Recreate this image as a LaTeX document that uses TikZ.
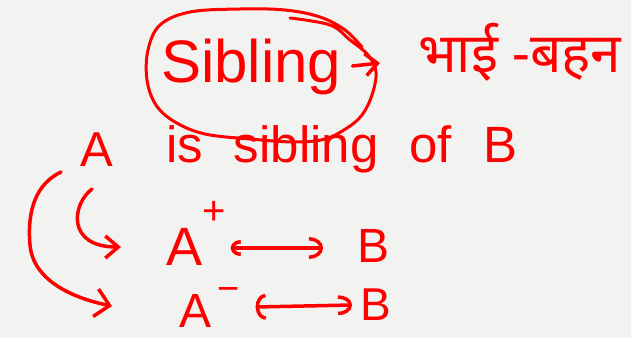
\documentclass[tikz,border=0pt]{standalone}
\usepackage{fontspec}
\setmainfont{Liberation Sans}
\newfontfamily\devfont[Script=Devanagari]{Noto Sans}
\usetikzlibrary{arrows.meta,calc}
\definecolor{bg}{RGB}{242,242,240}
\definecolor{ink}{RGB}{255,0,0}
\begin{document}
\begin{tikzpicture}[x=1pt,y=-1pt,
  txt/.style={text=ink, inner sep=0pt, anchor=base west},
  stroke/.style={draw=ink, line width=3.5pt, line cap=round, line join=round}]
\useasboundingbox (0,0) rectangle (631,338);
\fill[bg] (0,0) rectangle (631,338);
% texts
\node[txt, font=\fontsize{60}{60}\selectfont] (sib) at (161,82) {Sibling};
\node[txt, font=\devfont\fontsize{55}{55}\selectfont] (hin) at (418,72) {भाई -बहन};
\node[txt, font=\fontsize{49}{49}\selectfont] (A) at (80,166) {A};
\node[txt, font=\fontsize{51}{51}\selectfont] (rel) at (166,162) {\spaceskip=31pt is sibling of B};
\node[txt, font=\fontsize{54}{54}\selectfont] (Ap) at (166,265) {A\raisebox{41pt}{\fontsize{40}{40}\selectfont +}};
\node[txt, font=\fontsize{48}{48}\selectfont] (Bp) at (357,262) {B};
\node[txt, font=\fontsize{48}{48}\selectfont] (Am) at (179,327) {A\hspace{6pt}\raisebox{26pt}{\fontsize{38}{38}\selectfont −}};
\node[txt, font=\fontsize{46}{46}\selectfont] (Bm) at (360,320) {B};
% loop around Sibling
\draw[stroke, line width=3pt] plot[smooth, tension=0.6] coordinates {
  (290,18) (330,25) (350,40) (368,55) (376,72) (372,95) (362,115) (347,128)
  (325,139) (295,142) (250,139) (205,134) (175,122) (156,105) (147,80)
  (148,50) (160,25) (190,12) (240,9) (285,10) (320,17) (345,30) (362,47)};
% arrow Sibling -> Hindi
\draw[stroke, -{Straight Barb[length=12pt,width=22pt]}]
  ($(sib.base east)+(11,-16)$) -- ($(hin.base west)+(-38,-9)$);
% curved arrows
\draw[stroke, -{Straight Barb[length=13pt,width=22pt]}]
  ($(A.base west)+(12,23)$) .. controls +(-20,15) and +(-55,0) .. ($(Ap.base west)+(-45,-18)$);
\draw[stroke, -{Straight Barb[length=14pt,width=28pt]}]
  ($(A.base west)+(-19,6)$) .. controls +(-25,12) and +(-3,-35) .. (30,245)
  .. controls +(3,35) and +(-40,-8) .. ($(Am.base west)+(-67,-21)$);
% hook arrows
\draw[stroke, {Arc Barb[length=10pt,width=16pt]}-{Arc Barb[length=14pt,width=22pt]}]
  ($(Ap.base east)+(5,-17)$) -- ($(Bp.base west)+(-34,-14)$);
\draw[stroke, {Arc Barb[length=10pt,width=26pt]}-{Arc Barb[length=14pt,width=20pt]}]
  ($(Am.base east)+(16,-20)$) -- ($(Bm.base west)+(-8,-15)$);
\end{tikzpicture}
\end{document}
